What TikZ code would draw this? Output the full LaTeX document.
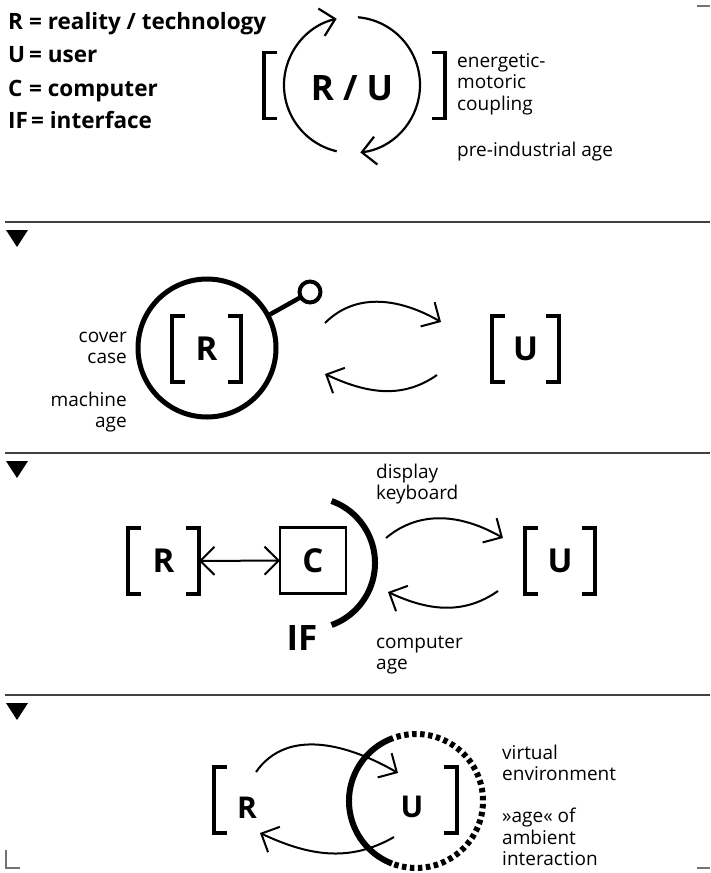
\documentclass[tikz,border=0pt]{standalone}
\usepackage{fontspec}
\setmainfont{Open Sans}
\usetikzlibrary{arrows.meta}

\begin{document}
\begin{tikzpicture}[
  x=1pt, y=1pt, >={Straight Barb[length=14pt, width=28pt]},
  txt/.style={font=\fontsize{19}{21.5}\selectfont, align=left, inner sep=0pt},
  leg/.style={font=\fontsize{22.5}{24}\selectfont\bfseries, anchor=base west, inner sep=0pt},
  big/.style={font=\fontsize{33}{36}\selectfont\bfseries, inner sep=0pt},
  huge/.style={font=\fontsize{35}{38}\selectfont\bfseries, inner sep=0pt},
  brline/.style={line width=3.8pt, line cap=butt, line join=miter},
  brk/.style={minimum width=#1, minimum height=66pt, inner sep=0pt, outer sep=0pt,
    append after command={\pgfextra{\let\brknode\tikzlastnode
      \draw[brline] ([xshift=13pt]\brknode.north west) -- (\brknode.north west)
        -- (\brknode.south west) -- ([xshift=13pt]\brknode.south west)
        ([xshift=-13pt]\brknode.north east) -- (\brknode.north east)
        -- (\brknode.south east) -- ([xshift=-13pt]\brknode.south east);}}},
  arw/.style={->, line width=2pt},
  sep/.style={line width=1.8pt, black!75},
  crop/.style={line width=1.2pt, black!55}]

\useasboundingbox (0,0) rectangle (710,-873);

% legend
\node[leg] (legR)  at (8,-29)  {R};
\node[leg] (legRt) at (29,-29) {= reality / technology};
\node[leg] (legU)  at (8,-62)  {U};
\node[leg] (legUt) at (29,-62) {= user};
\node[leg] (legC)  at (8,-96)  {C};
\node[leg] (legCt) at (29,-96) {= computer};
\node[leg] (legI)  at (8,-128) {IF};
\node[leg] (legIt) at (31,-128) {= interface};

% panel 1: pre-industrial
\node[huge] (ru) at (352,-88) {R / U};
\node[brk=181pt] (cpl) at (354.5,-85.5) {};
\coordinate (cyc) at (352,-85);
\draw[arw, line width=2.2pt] (cyc) ++(257:68) arc[start angle=257, end angle=103, radius=68];
\draw[arw, line width=2.2pt] (cyc) ++(85:68) arc[start angle=85, end angle=-83, radius=68];
\node[txt, anchor=west] (cplL) at (457,-84) {energetic-\\motoric\\coupling};
\node[txt, anchor=west] (ageA) at (457,-152) {pre-industrial age};

\foreach \yy in {222,453,695} {
  \draw[sep] (5,-\yy) -- (710,-\yy);
  \fill (6,-\yy-8) -- (28,-\yy-8) -- (17,-\yy-25) -- cycle;
}

% panel 2: machine age
\node[draw, circle, line width=5pt, minimum size=138pt, inner sep=0pt, outer sep=0pt] (case) at (207,-348) {};
\node[draw, circle, line width=4pt, minimum size=21pt, inner sep=0pt, outer sep=0pt] (knob) at (310,-292) {};
\draw[line width=4.5pt] (case.28) -- (knob);
\node[brk=69pt, big] (r2) at (206.5,-349) {R};
\node[brk=67pt, big] (u2) at (525.5,-349) {U};
\coordinate (a2s) at (325,-323);
\coordinate (a2e) at (441,-322);
\coordinate (b2s) at (437,-375);
\coordinate (b2e) at (325,-374);
\draw[arw] (a2s) to[out=45, in=150] (a2e);
\draw[arw] (b2s) to[out=215, in=-25] (b2e);
\node[txt, anchor=east, align=right] (caseL) at (127,-348) {cover\\case};
\node[txt, anchor=east, align=right] (ageB) at (127,-412) {machine\\age};

% panel 3: computer age
\node[brk=71pt, big] (r3) at (163.5,-561) {R};
\node[draw, line width=2.5pt, minimum size=66pt, inner sep=0pt, outer sep=0pt, big] (c3) at (313,-560.5) {C};
\node[brk=70pt, big] (u3) at (560,-561) {U};
\draw[<->, line width=2pt] (r3) -- (c3);
\coordinate (ifc) at (309,-563);
\draw[line width=6pt] (ifc) ++(70:66) arc[start angle=70, end angle=-70, radius=66];
\node[huge] (if) at (302,-638) {IF};
\coordinate (a3s) at (386,-538);
\coordinate (a3e) at (503,-538);
\coordinate (b3s) at (498,-591);
\coordinate (b3e) at (388,-592);
\draw[arw] (a3s) to[out=40, in=150] (a3e);
\draw[arw] (b3s) to[out=215, in=-25] (b3e);
\node[txt, anchor=west] (dispL) at (376,-484) {display\\keyboard};
\node[txt, anchor=west] (ageC) at (376,-655) {computer\\age};

% panel 4: ambient interaction
\node[brk=243pt] (amb) at (335.5,-800) {};
\node[big, font=\fontsize{30}{32}\selectfont\bfseries] (r4) at (247,-808) {R};
\node[big, font=\fontsize{30}{32}\selectfont\bfseries] (u4) at (412,-807) {U};
\coordinate (env) at (416,-801);
\draw[line width=6pt] (env) ++(110:67) arc[start angle=110, end angle=249, radius=67];
\draw[line width=6pt, dash pattern=on 4.5pt off 3.5pt] (env) ++(107:67) arc[start angle=107, end angle=-112, radius=67];
\coordinate (a4s) at (256,-772);
\coordinate (a4e) at (398,-773);
\coordinate (b4s) at (394,-837);
\coordinate (b4e) at (260,-833);
\draw[arw] (a4s) to[out=55, in=150] (a4e);
\draw[arw] (b4s) to[out=210, in=-25] (b4e);
\node[txt, anchor=west] (envL) at (502,-763) {virtual\\environment};
\node[txt, anchor=west] (ageD) at (502,-837) {»age« of\\ambient\\interaction};

% crop marks
\draw[crop] (697,-6) -- (710,-6);
\draw[crop] (6,-850) -- (6,-868) -- (20,-868);
\draw[crop] (697,-868) -- (710,-868);

\end{tikzpicture}
\end{document}
